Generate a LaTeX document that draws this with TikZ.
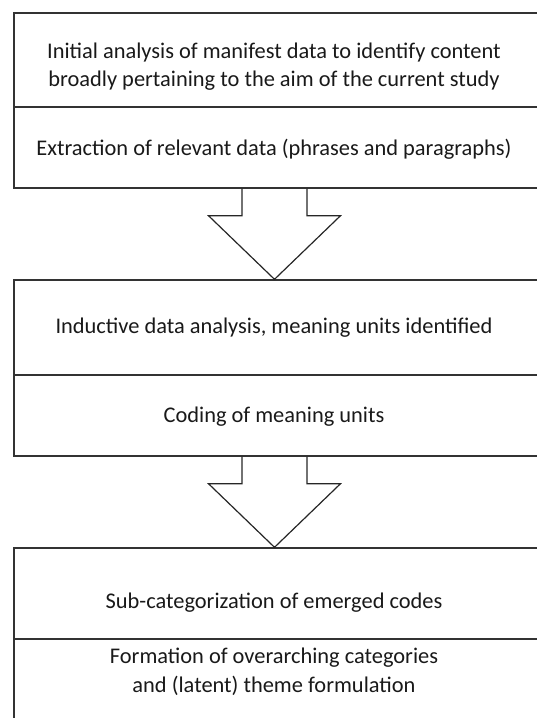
\documentclass[tikz,border=0pt]{standalone}
\usepackage{fontspec}
\setmainfont{Carlito}
\usetikzlibrary{calc}
\begin{document}
\begin{tikzpicture}[x=1pt,y=-1pt,
  frame/.style={draw=black!80, line width=1.4pt, inner sep=0pt},
  label/.style={font=\fontsize{22.4}{28.5}\selectfont, align=center, text=black!90, inner sep=0pt},
  blockarrow/.style={draw=black!85, line width=1.2pt, line join=miter}]
\useasboundingbox (0,0) rectangle (537,718);
\clip (0,0) rectangle (537,718);
% frames
\node[frame, minimum width=531pt, minimum height=94pt] (b1u) at (279.5,60) {};
\node[frame, minimum width=531pt, minimum height=81pt] (b1l) at (279.5,147.5) {};
\node[frame, minimum width=531pt, minimum height=95pt] (b2u) at (279.5,327.5) {};
\node[frame, minimum width=531pt, minimum height=81pt] (b2l) at (279.5,415.5) {};
\node[frame, minimum width=531pt, minimum height=91pt] (b3u) at (279.5,593.5) {};
\node[frame, minimum width=531pt, minimum height=120pt] (b3l) at (279.5,699) {};
% texts
\node[label] (t1) at (274,66.5) {Initial analysis of manifest data to identify content\\broadly pertaining to the aim of the current study};
\node[label] (t2) at (274,149) {Extraction of relevant data (phrases and paragraphs)};
\node[label] (t3) at (274,328) {Inductive data analysis, meaning units identified};
\node[label] (t4) at (274,417) {Coding of meaning units};
\node[label] (t5) at (274,603) {Sub-categorization of emerged codes};
\node[label] (t6) at (274,672) {Formation of overarching categories\\and (latent) theme formulation};
% block arrows
\coordinate (a1top) at (b1l.south -| 274.5,0);
\coordinate (a1tip) at (b2u.north -| 274.5,0);
\coordinate (a2top) at (b2l.south -| 274.5,0);
\coordinate (a2tip) at (b3u.north -| 274.5,0);
\draw[blockarrow] ($(a1top)+(-32.5,0)$) -- ++(0,27) -- ++(-33.5,0) -- (a1tip) -- ($(a1top)+(66,27)$) -- ++(-33.5,0) -- ++(0,-27);
\draw[blockarrow] ($(a2top)+(-32.5,0)$) -- ++(0,27) -- ++(-33.5,0) -- (a2tip) -- ($(a2top)+(66,27)$) -- ++(-33.5,0) -- ++(0,-27);
\end{tikzpicture}
\end{document}
